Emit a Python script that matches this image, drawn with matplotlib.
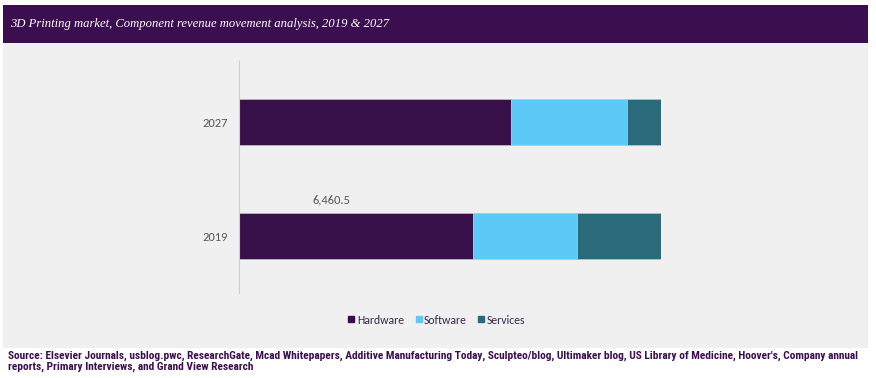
import matplotlib
matplotlib.use("Agg")
import matplotlib.pyplot as plt
from matplotlib.patches import Rectangle
from matplotlib.lines import Line2D

years = ["2019", "2027"]
components = ["Hardware", "Software", "Services"]
# revenue share (%) by component
hardware = [55.5, 64.4]
software = [24.6, 27.5]
services = [19.9, 8.1]
label_value = "6,460.5"

colors = {"Hardware": "#381049", "Software": "#5cc9f6", "Services": "#2a6a7b"}
purple = "#3b0f4f"
sans = ["Calibri", "Carlito", "Lato", "DejaVu Sans"]

fig = plt.figure(figsize=(8.76, 3.78), dpi=100)
fig.patch.set_facecolor("white")

# grey chart background and purple title band
fig.add_artist(Rectangle((3/876, 1-348/378), 865/876, (348-43)/378,
                         transform=fig.transFigure, facecolor="#f0f0f0",
                         edgecolor="none", zorder=0))
fig.add_artist(Rectangle((3/876, 1-43/378), 865/876, 38/378,
                         transform=fig.transFigure, facecolor=purple,
                         edgecolor="none", zorder=0))
fig.text(10/876, 1-24/378,
         "3D Printing market, Component revenue movement analysis, 2019 & 2027",
         color="white", fontsize=9.1, style="italic",
         family=["Liberation Serif", "DejaVu Serif"], va="center", ha="left")

ax = fig.add_axes([239.3/876, 1-293/378, 421.7/876, 233/378])
ax.set_facecolor("none")

series = {"Hardware": hardware, "Software": software, "Services": services}
ypos = list(range(len(years)))
left = [0.0] * len(years)
for name in components:
    vals = series[name]
    ax.barh(ypos, vals, left=left, height=0.41, color=colors[name],
            edgecolor="#c8c0cc", linewidth=0.5, label=name, zorder=2)
    left = [l + v for l, v in zip(left, vals)]

ax.set_xlim(0, 100)
ax.set_ylim(-0.5, 1.544)
ax.set_yticks(ypos)
ax.set_yticklabels(years, fontsize=9, color="#595959", family=sans)
ax.tick_params(axis="y", length=0, pad=8)
ax.set_xticks([])
for s in ["top", "right", "bottom"]:
    ax.spines[s].set_visible(False)
ax.spines["left"].set_color("#cccccc")
ax.spines["left"].set_linestyle((0, (1, 1)))
ax.spines["left"].set_linewidth(0.8)

ax.text(21.8, 0 + 0.205 + 0.06, label_value, ha="center", va="bottom",
        fontsize=9, color="#595959", family=sans)

handles = [Line2D([], [], marker="s", linestyle="none", markersize=5,
                  markerfacecolor=colors[c], markeredgecolor=colors[c])
           for c in components]
fig.legend(handles, components, loc="center", bbox_to_anchor=(436/876, 1-320/378),
           ncol=3, frameon=False, handletextpad=0.05,
           columnspacing=0.85, handlelength=0.8,
           labelcolor="#3b2a4f",
           prop={"family": sans, "size": 8.5})

src_family = ["Roboto Condensed", "Liberation Sans Narrow", "Liberation Sans", "DejaVu Sans"]
line1 = ("Source: Elsevier Journals, usblog.pwc, ResearchGate, Mcad Whitepapers, Additive Manufacturing Today, "
         "Sculpteo/blog, Ultimaker blog, US Library of Medicine, Hoover's, Company annual")
line2 = "reports, Primary Interviews, and Grand View Research"
t1 = fig.text(8/876, 1-356/378, line1, color=purple, fontsize=7.5, fontweight="bold",
              family=src_family, va="center", ha="left")
# scale the font so the first line spans the reference's width
fig.canvas.draw()
w = t1.get_window_extent().width
fs = min(8.5, 7.5 * 843 / w)
t1.set_fontsize(fs)
fig.text(8/876, 1-367/378, line2, color=purple, fontsize=fs, fontweight="bold",
         family=src_family, va="center", ha="left")

fig.savefig("out.png", dpi=100, facecolor="white")
